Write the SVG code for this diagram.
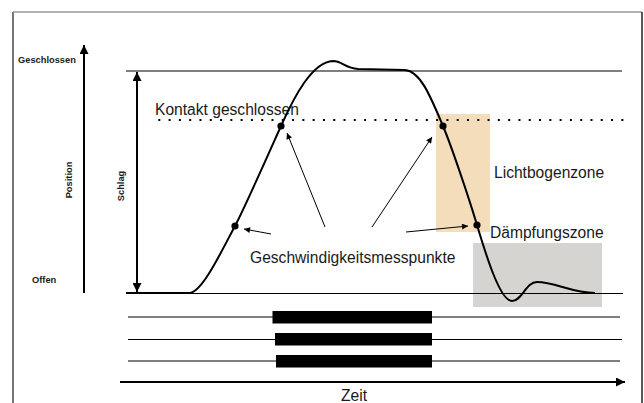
<svg xmlns="http://www.w3.org/2000/svg" width="644" height="403" viewBox="0 0 644 403">
<style>
.lbl{font-family:"Liberation Sans",Arial,sans-serif;font-size:15.6px;fill:#1a1a1a}
.sm{font-family:"Liberation Sans",Arial,sans-serif;font-size:9.3px;font-weight:bold;fill:#1a1a1a}
.ln{stroke:#000;stroke-width:1.2;fill:none}
.ax{stroke:#000;stroke-width:2;fill:none}
.ann{stroke:#000;stroke-width:1;fill:none}
.bar{fill:#000}
.dot{fill:#000}
</style>
<defs>
<marker id="big" viewBox="0 0 10 10" refX="10" refY="5" markerWidth="9" markerHeight="9" markerUnits="userSpaceOnUse" orient="auto-start-reverse"><path d="M0,0 L10,5 L0,10 z" fill="#000"/></marker>
<marker id="small" viewBox="0 0 10 10" refX="10" refY="5" markerWidth="7" markerHeight="6" markerUnits="userSpaceOnUse" orient="auto"><path d="M0,0 L10,5 L0,10 z" fill="#000"/></marker>
</defs>
<rect width="644" height="403" fill="#fff"/>
<g id="frame">
<line x1="13" y1="12" x2="13" y2="403" stroke="#777" stroke-width="2"/>
<line x1="13" y1="12" x2="642" y2="12" stroke="#999" stroke-width="1.5"/>
<line x1="642" y1="12" x2="642" y2="403" stroke="#222" stroke-width="1.5"/>
</g>
<g id="zones">
<rect id="lichtbogenzone" x="436" y="114" width="54" height="118" fill="#F4DDBB"/>
<rect id="daempfungszone" x="473" y="243" width="129" height="64" fill="#D5D4D0"/>
</g>
<g id="position-axis">
<line class="ax" x1="84" y1="293" x2="84" y2="45" marker-end="url(#big)"/>
<text class="sm" x="18" y="63">Geschlossen</text>
<text class="sm" x="32" y="283">Offen</text>
<text class="sm" transform="translate(72,180) rotate(-90)" text-anchor="middle">Position</text>
</g>
<g id="schlag">
<line class="ax" x1="137" y1="292" x2="137" y2="72" marker-start="url(#big)" marker-end="url(#big)"/>
<text class="sm" transform="translate(124,186) rotate(-90)" text-anchor="middle">Schlag</text>
</g>
<g id="reference-lines">
<line class="ln" x1="126" y1="71" x2="622" y2="71"/>
<line class="ln" x1="126" y1="293.5" x2="623" y2="293.5"/>
<line x1="158.3" y1="120" x2="624" y2="120" stroke="#000" stroke-width="2" stroke-dasharray="2 8.29"/>
<text class="lbl" x="155" y="115">Kontakt geschlossen</text>
</g>
<g id="curve">
<path d="M126,293 H190 C203,291 222,250 235,226 C245,207 268,155 281,126 C294,97 312,62 333,61 C342,61 345,68 358,69 L405,70 C420,71 430,95 443,126 C451,145 468,195 477,225 C486,255 500,301 512,301 C522,301 526,282 537,282 C555,282 572,293 595,293" stroke="#000" stroke-width="2" fill="none"/>
<circle class="dot" cx="235" cy="226" r="3.6"/>
<circle class="dot" cx="281" cy="126" r="3.6"/>
<circle class="dot" cx="443" cy="126" r="3.6"/>
<circle class="dot" cx="477" cy="225" r="3.6"/>
</g>
<g id="labels">
<text class="lbl" x="494" y="178">Lichtbogenzone</text>
<text class="lbl" x="490" y="238">Dämpfungszone</text>
<text class="lbl" x="250" y="263">Geschwindigkeitsmesspunkte</text>
</g>
<g id="connectors">
<line class="ann" x1="271" y1="234" x2="244" y2="229" marker-end="url(#small)"/>
<line class="ann" x1="325" y1="227" x2="287" y2="133" marker-end="url(#small)"/>
<line class="ann" x1="372" y1="227" x2="432" y2="137" marker-end="url(#small)"/>
<line class="ann" x1="406" y1="232" x2="468" y2="226" marker-end="url(#small)"/>
</g>
<g id="contact-rows">
<line class="ln" x1="128" y1="317" x2="620" y2="317"/>
<line class="ln" x1="128" y1="339.5" x2="622" y2="339.5"/>
<line class="ln" x1="128" y1="361" x2="620" y2="361"/>
<rect class="bar" x="272.5" y="311" width="159.5" height="12.5"/>
<rect class="bar" x="275" y="333" width="157" height="12.5"/>
<rect class="bar" x="276" y="355" width="156" height="12.5"/>
</g>
<g id="time-axis">
<line class="ax" x1="120" y1="382" x2="625" y2="382" marker-end="url(#big)"/>
<text class="lbl" x="341" y="401">Zeit</text>
</g>
</svg>
